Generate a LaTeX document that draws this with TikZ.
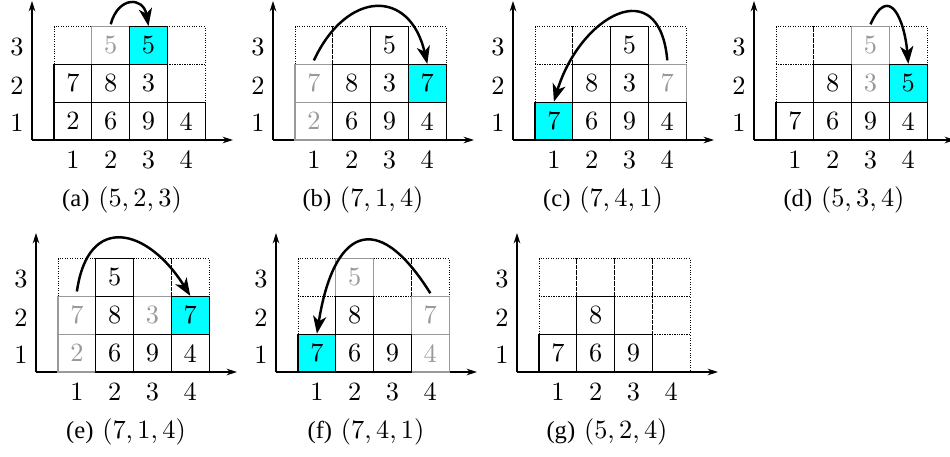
\documentclass[tikz,border=0pt]{standalone}
\usepackage{fontspec}
\newfontfamily\capfont{Liberation Serif}
\newfontfamily\cellfont{lmroman10-regular.otf}
\usetikzlibrary{arrows.meta}
\definecolor{movecyan}{RGB}{0,255,255}
\tikzset{
  slot/.style={draw=black, densely dotted, line width=0.4pt, minimum size=7.56mm, inner sep=0pt},
  full/.style={draw=black, line width=0.6pt, minimum size=7.56mm, inner sep=0pt, font=\cellfont\fontsize{15}{18}\selectfont},
  ghost/.style={full, draw=black!40, text=black!40},
  moved/.style={full, fill=movecyan},
  axis/.style={line width=0.6pt, -{Stealth[length=6pt,width=3.8pt]}},
  ticklabel/.style={font=\cellfont\fontsize{15}{18}\selectfont},
  caption/.style={font=\cellfont\fontsize{15}{18}\selectfont, anchor=base},
  hop/.style={line width=1.4pt, -{Stealth[length=10pt,width=7.5pt,inset=2.8pt]}},
}
\newcommand{\subcap}[2]{{\capfont\fontsize{14}{17}\selectfont(#1)}\hspace{5pt}(#2)}

\begin{document}
\begin{tikzpicture}[x=0.2mm,y=0.2mm]
\useasboundingbox (0,0) rectangle (950,457);
\begin{scope}[shift={(32,317)}]
\coordinate (a0) at (0,0);
\draw[axis] (a0) -- ++(201,0);
\draw[axis] (a0) -- ++(0,139);
\node[ticklabel] (ax1) at (40.9,-20) {1};
\node[ticklabel] (ax2) at (78.7,-20) {2};
\node[ticklabel] (ax3) at (116.5,-20) {3};
\node[ticklabel] (ax4) at (154.3,-20) {4};
\node[ticklabel] (ay1) at (-15,16.9) {1};
\node[ticklabel] (ay2) at (-15,54.7) {2};
\node[ticklabel] (ay3) at (-15,92.5) {3};
\node[slot] (a13) at (40.9,94.5) {};
\node[slot] (a43) at (154.3,94.5) {};
\node[slot] (a42) at (154.3,56.7) {};
\node[ghost] (a23) at (78.7,94.5) {5};
\node[full] (a11) at (40.9,18.9) {2};
\node[full] (a21) at (78.7,18.9) {6};
\node[full] (a31) at (116.5,18.9) {9};
\node[full] (a41) at (154.3,18.9) {4};
\node[full] (a12) at (40.9,56.7) {7};
\node[full] (a22) at (78.7,56.7) {8};
\node[full] (a32) at (116.5,56.7) {3};
\node[moved] (a33) at (116.5,94.5) {5};
\draw[hop] ([yshift=1pt]a23.north) to[out=75,in=100,looseness=2] (a33.north);
\node[caption] (acap) at (90,-67) {\subcap{a}{5,\,2,\,3}};
\end{scope}
\begin{scope}[shift={(273,317)}]
\coordinate (b0) at (0,0);
\draw[axis] (b0) -- ++(201,0);
\draw[axis] (b0) -- ++(0,139);
\node[ticklabel] (bx1) at (40.9,-20) {1};
\node[ticklabel] (bx2) at (78.7,-20) {2};
\node[ticklabel] (bx3) at (116.5,-20) {3};
\node[ticklabel] (bx4) at (154.3,-20) {4};
\node[ticklabel] (by1) at (-15,16.9) {1};
\node[ticklabel] (by2) at (-15,54.7) {2};
\node[ticklabel] (by3) at (-15,92.5) {3};
\node[slot] (b13) at (40.9,94.5) {};
\node[slot] (b23) at (78.7,94.5) {};
\node[slot] (b43) at (154.3,94.5) {};
\node[ghost] (b12) at (40.9,56.7) {7};
\node[ghost] (b11) at (40.9,18.9) {2};
\node[full] (b21) at (78.7,18.9) {6};
\node[full] (b31) at (116.5,18.9) {9};
\node[full] (b41) at (154.3,18.9) {4};
\node[full] (b22) at (78.7,56.7) {8};
\node[full] (b32) at (116.5,56.7) {3};
\node[full] (b33) at (116.5,94.5) {5};
\node[moved] (b42) at (154.3,56.7) {7};
\draw[hop] ([yshift=2pt]b12.north) to[out=65,in=103,looseness=1.75] (b42.north);
\node[caption] (bcap) at (90,-67) {\subcap{b}{7,\,1,\,4}};
\end{scope}
\begin{scope}[shift={(513,317)}]
\coordinate (c0) at (0,0);
\draw[axis] (c0) -- ++(201,0);
\draw[axis] (c0) -- ++(0,139);
\node[ticklabel] (cx1) at (40.9,-20) {1};
\node[ticklabel] (cx2) at (78.7,-20) {2};
\node[ticklabel] (cx3) at (116.5,-20) {3};
\node[ticklabel] (cx4) at (154.3,-20) {4};
\node[ticklabel] (cy1) at (-15,16.9) {1};
\node[ticklabel] (cy2) at (-15,54.7) {2};
\node[ticklabel] (cy3) at (-15,92.5) {3};
\node[slot] (c13) at (40.9,94.5) {};
\node[slot] (c23) at (78.7,94.5) {};
\node[slot] (c43) at (154.3,94.5) {};
\node[slot] (c12) at (40.9,56.7) {};
\node[ghost] (c42) at (154.3,56.7) {7};
\node[full] (c21) at (78.7,18.9) {6};
\node[full] (c31) at (116.5,18.9) {9};
\node[full] (c41) at (154.3,18.9) {4};
\node[full] (c22) at (78.7,56.7) {8};
\node[full] (c32) at (116.5,56.7) {3};
\node[full] (c33) at (116.5,94.5) {5};
\node[moved] (c11) at (40.9,18.9) {7};
\draw[hop] ([yshift=2pt]c42.north) to[out=95,in=73,looseness=1.9] (c11.north);
\node[caption] (ccap) at (90,-67) {\subcap{c}{7,\,4,\,1}};
\end{scope}
\begin{scope}[shift={(754,317)}]
\coordinate (d0) at (0,0);
\draw[axis] (d0) -- ++(201,0);
\draw[axis] (d0) -- ++(0,139);
\node[ticklabel] (dx1) at (40.9,-20) {1};
\node[ticklabel] (dx2) at (78.7,-20) {2};
\node[ticklabel] (dx3) at (116.5,-20) {3};
\node[ticklabel] (dx4) at (154.3,-20) {4};
\node[ticklabel] (dy1) at (-15,16.9) {1};
\node[ticklabel] (dy2) at (-15,54.7) {2};
\node[ticklabel] (dy3) at (-15,92.5) {3};
\node[slot] (d13) at (40.9,94.5) {};
\node[slot] (d23) at (78.7,94.5) {};
\node[slot] (d43) at (154.3,94.5) {};
\node[slot] (d12) at (40.9,56.7) {};
\node[ghost] (d33) at (116.5,94.5) {5};
\node[ghost] (d32) at (116.5,56.7) {3};
\node[full] (d11) at (40.9,18.9) {7};
\node[full] (d21) at (78.7,18.9) {6};
\node[full] (d31) at (116.5,18.9) {9};
\node[full] (d41) at (154.3,18.9) {4};
\node[full] (d22) at (78.7,56.7) {8};
\node[moved] (d42) at (154.3,56.7) {5};
\draw[hop] ([yshift=1pt]d33.north) to[out=66,in=95,looseness=2.1] (d42.north);
\node[caption] (dcap) at (90,-67) {\subcap{d}{5,\,3,\,4}};
\end{scope}
\begin{scope}[shift={(36,85)}]
\coordinate (e0) at (0,0);
\draw[axis] (e0) -- ++(201,0);
\draw[axis] (e0) -- ++(0,139);
\node[ticklabel] (ex1) at (40.9,-20) {1};
\node[ticklabel] (ex2) at (78.7,-20) {2};
\node[ticklabel] (ex3) at (116.5,-20) {3};
\node[ticklabel] (ex4) at (154.3,-20) {4};
\node[ticklabel] (ey1) at (-15,16.9) {1};
\node[ticklabel] (ey2) at (-15,54.7) {2};
\node[ticklabel] (ey3) at (-15,92.5) {3};
\node[slot] (e13) at (40.9,94.5) {};
\node[slot] (e33) at (116.5,94.5) {};
\node[slot] (e43) at (154.3,94.5) {};
\node[ghost] (e12) at (40.9,56.7) {7};
\node[ghost] (e32) at (116.5,56.7) {3};
\node[ghost] (e11) at (40.9,18.9) {2};
\node[full] (e21) at (78.7,18.9) {6};
\node[full] (e31) at (116.5,18.9) {9};
\node[full] (e41) at (154.3,18.9) {4};
\node[full] (e22) at (78.7,56.7) {8};
\node[full] (e23) at (78.7,94.5) {5};
\node[moved] (e42) at (154.3,56.7) {7};
\draw[hop] ([yshift=2.5pt]e12.north) to[out=82,in=122,looseness=1.8] (e42.north);
\node[caption] (ecap) at (90,-67) {\subcap{e}{7,\,1,\,4}};
\end{scope}
\begin{scope}[shift={(276,85)}]
\coordinate (f0) at (0,0);
\draw[axis] (f0) -- ++(201,0);
\draw[axis] (f0) -- ++(0,139);
\node[ticklabel] (fx1) at (40.9,-20) {1};
\node[ticklabel] (fx2) at (78.7,-20) {2};
\node[ticklabel] (fx3) at (116.5,-20) {3};
\node[ticklabel] (fx4) at (154.3,-20) {4};
\node[ticklabel] (fy1) at (-15,16.9) {1};
\node[ticklabel] (fy2) at (-15,54.7) {2};
\node[ticklabel] (fy3) at (-15,92.5) {3};
\node[slot] (f13) at (40.9,94.5) {};
\node[slot] (f33) at (116.5,94.5) {};
\node[slot] (f43) at (154.3,94.5) {};
\node[slot] (f12) at (40.9,56.7) {};
\node[slot] (f32) at (116.5,56.7) {};
\node[ghost] (f23) at (78.7,94.5) {5};
\node[ghost] (f42) at (154.3,56.7) {7};
\node[ghost] (f41) at (154.3,18.9) {4};
\node[full] (f21) at (78.7,18.9) {6};
\node[full] (f31) at (116.5,18.9) {9};
\node[full] (f22) at (78.7,56.7) {8};
\node[moved] (f11) at (40.9,18.9) {7};
\draw[hop] ([yshift=1.5pt]f42.north) to[out=122,in=81,looseness=2.2] (f11.north);
\node[caption] (fcap) at (90,-67) {\subcap{f}{7,\,4,\,1}};
\end{scope}
\begin{scope}[shift={(517,85)}]
\coordinate (g0) at (0,0);
\draw[axis] (g0) -- ++(201,0);
\draw[axis] (g0) -- ++(0,139);
\node[ticklabel] (gx1) at (40.9,-20) {1};
\node[ticklabel] (gx2) at (78.7,-20) {2};
\node[ticklabel] (gx3) at (116.5,-20) {3};
\node[ticklabel] (gx4) at (154.3,-20) {4};
\node[ticklabel] (gy1) at (-15,16.9) {1};
\node[ticklabel] (gy2) at (-15,54.7) {2};
\node[ticklabel] (gy3) at (-15,92.5) {3};
\node[slot] (g13) at (40.9,94.5) {};
\node[slot] (g23) at (78.7,94.5) {};
\node[slot] (g33) at (116.5,94.5) {};
\node[slot] (g43) at (154.3,94.5) {};
\node[slot] (g12) at (40.9,56.7) {};
\node[slot] (g32) at (116.5,56.7) {};
\node[slot] (g42) at (154.3,56.7) {};
\node[slot] (g41) at (154.3,18.9) {};
\node[full] (g11) at (40.9,18.9) {7};
\node[full] (g21) at (78.7,18.9) {6};
\node[full] (g31) at (116.5,18.9) {9};
\node[full] (g22) at (78.7,56.7) {8};
\node[caption] (gcap) at (90,-67) {\subcap{g}{5,\,2,\,4}};
\end{scope}
\end{tikzpicture}
\end{document}
